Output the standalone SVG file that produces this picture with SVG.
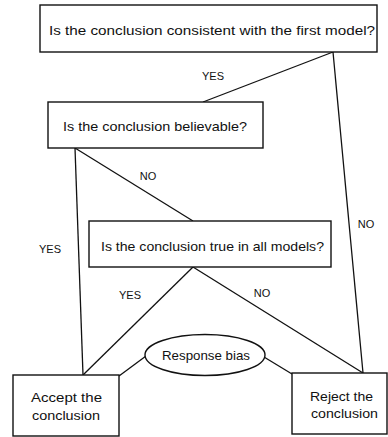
<svg xmlns="http://www.w3.org/2000/svg" width="388" height="437" viewBox="0 0 388 437">
<style>
.box{fill:#fff;stroke:#111;stroke-width:1.4}
.ln{stroke:#111;stroke-width:1.3;fill:none}
text{font-family:"Liberation Sans",Arial,sans-serif;font-size:13px;fill:#111}
.lbl{font-size:11px;text-anchor:middle}
</style>
<rect width="388" height="437" fill="#fff"/>
<g id="connectors">
<line class="ln" x1="333" y1="52" x2="203" y2="102"/>
<line class="ln" x1="333" y1="52" x2="363" y2="373"/>
<line class="ln" x1="75" y1="148" x2="83" y2="375"/>
<line class="ln" x1="75" y1="148" x2="193" y2="221"/>
<line class="ln" x1="193" y1="267" x2="83" y2="375"/>
<line class="ln" x1="193" y1="267" x2="363" y2="373"/>
<line class="ln" x1="146" y1="356" x2="119" y2="376"/>
<line class="ln" x1="264" y1="357" x2="292" y2="374"/>
<text class="lbl" x="213" y="80">YES</text>
<text class="lbl" x="148" y="180">NO</text>
<text class="lbl" x="50" y="253">YES</text>
<text class="lbl" x="366" y="228">NO</text>
<text class="lbl" x="130" y="299">YES</text>
<text class="lbl" x="262" y="297">NO</text>
</g>
<g id="q1">
<rect class="box" x="40" y="5" width="337" height="47"/>
<text x="49" y="35" textLength="326" lengthAdjust="spacingAndGlyphs">Is the conclusion consistent with the first model?</text>
</g>
<g id="q2">
<rect class="box" x="48" y="102" width="215" height="46"/>
<text x="63" y="131" textLength="184" lengthAdjust="spacingAndGlyphs">Is the conclusion believable?</text>
</g>
<g id="q3">
<rect class="box" x="89" y="221" width="242" height="46"/>
<text x="101" y="251" textLength="223" lengthAdjust="spacingAndGlyphs">Is the conclusion true in all models?</text>
</g>
<g id="bias">
<ellipse class="box" cx="205" cy="355" rx="60" ry="20.5"/>
<text x="162" y="360" textLength="88" lengthAdjust="spacingAndGlyphs">Response bias</text>
</g>
<g id="accept">
<rect class="box" x="13" y="375" width="106" height="61"/>
<text x="31" y="402" textLength="71" lengthAdjust="spacingAndGlyphs">Accept the</text>
<text x="32" y="420" textLength="68" lengthAdjust="spacingAndGlyphs">conclusion</text>
</g>
<g id="reject">
<rect class="box" x="292" y="373" width="95" height="61"/>
<text x="310" y="401" textLength="63" lengthAdjust="spacingAndGlyphs">Reject the</text>
<text x="311" y="418" textLength="67" lengthAdjust="spacingAndGlyphs">conclusion</text>
</g>
</svg>
